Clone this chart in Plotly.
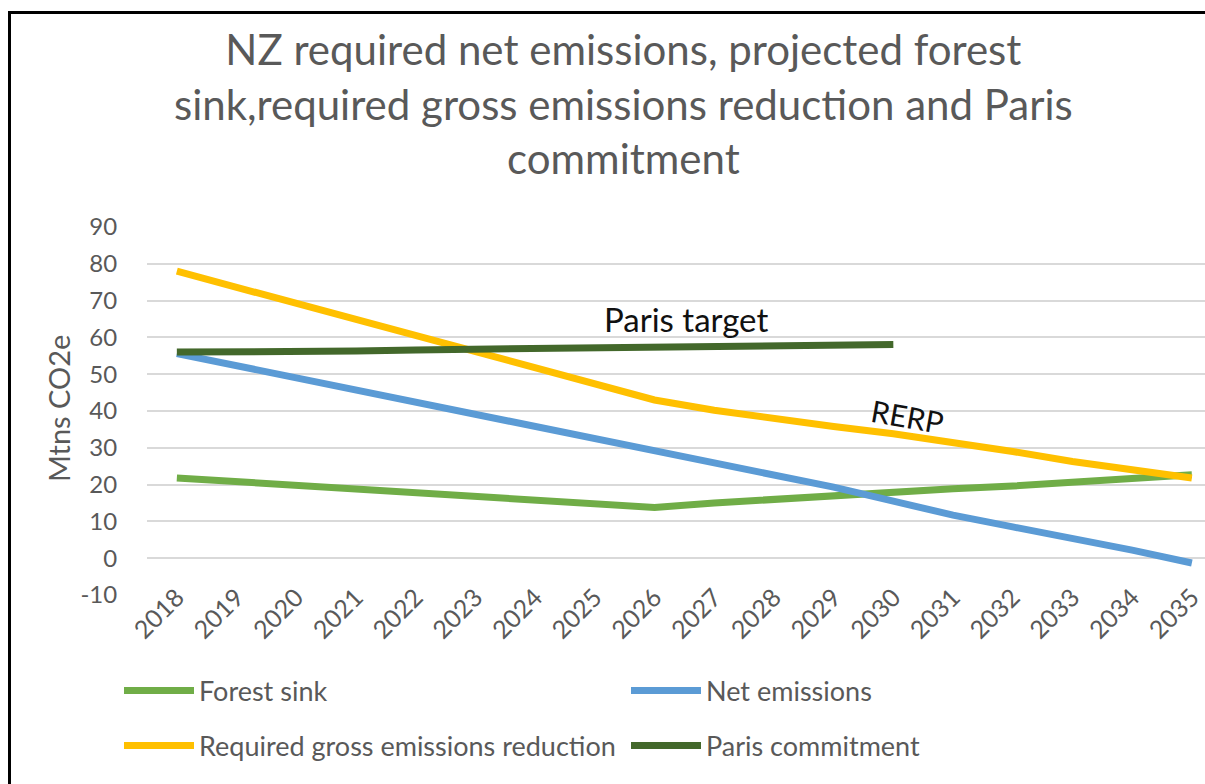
import plotly.graph_objects as go

years = list(range(2018, 2036))
year_labels = [str(y) for y in years]
y_ticks = [-10, 0, 10, 20, 30, 40, 50, 60, 70, 80, 90]
y_tick_labels = ["-10", "0", "10", "20", "30", "40", "50", "60", "70", "80", "90"]

forest_sink = [21.8, 20.8, 19.8, 18.8, 17.8, 16.8, 15.9, 14.9, 13.8, 15.0, 16.0, 17.1, 18.0, 18.9, 19.6, 20.6, 21.6, 22.7]
net_emissions = [55.6, 52.3, 49.0, 45.6, 42.3, 39.0, 35.8, 32.6, 29.2, 25.6, 22.5, 19.3, 15.5, 11.7, 8.5, 5.4, 2.2, -1.3]
gross_reduction = [78.0, 73.6, 69.4, 65.0, 60.6, 56.4, 52.0, 47.5, 43.0, 40.2, 37.8, 35.8, 33.8, 31.5, 29.0, 26.3, 24.0, 21.8]
paris_commitment = [56.0, 56.0, 56.0, 56.3, 56.6, 56.8, 57.1, 57.3, 57.5, 57.6, 57.7, 58.0, 58.1,
                    None, None, None, None, None]

series_names = ["Forest sink", "Net emissions", "Required gross emissions reduction", "Paris commitment"]
title_lines = ["NZ required net emissions, projected forest",
               "sink,required gross emissions reduction and Paris",
               "commitment"]

FONT = "Lato"
GREY = "#595959"

fig = go.Figure()
fig.add_trace(go.Scatter(x=years, y=forest_sink, name=series_names[0], mode="lines",
                         line=dict(color="#70AD47", width=7), legend="legend"))
fig.add_trace(go.Scatter(x=years, y=net_emissions, name=series_names[1], mode="lines",
                         line=dict(color="#5B9BD5", width=7), legend="legend"))
fig.add_trace(go.Scatter(x=years, y=gross_reduction, name=series_names[2], mode="lines",
                         line=dict(color="#FFC000", width=7), legend="legend2"))
fig.add_trace(go.Scatter(x=years, y=paris_commitment, name=series_names[3], mode="lines",
                         line=dict(color="#43682B", width=7), legend="legend2"))

W, H = 1205, 784
L, R, T, B = 147, 0, 227, 189
pw = W - L - R
ph = H - T - B

def px_x(p):
    return (p - L) / pw

def px_y(p):
    return (H - B - p) / ph

leg_common = dict(orientation="h", xanchor="left", yanchor="middle",
                  itemwidth=70, entrywidth=422, entrywidthmode="pixels",
                  font=dict(size=27, color=GREY, family=FONT), bgcolor="rgba(0,0,0,0)")

fig.update_layout(
    width=W, height=H, autosize=False,
    margin=dict(l=L, r=R, t=T, b=B),
    paper_bgcolor="white", plot_bgcolor="white",
    font=dict(family=FONT, color=GREY),
    showlegend=True,
    legend=dict(x=px_x(119), y=px_y(691), **leg_common),
    legend2=dict(x=px_x(119), y=px_y(746), **leg_common),
    xaxis=dict(range=[2017.5, 2035.22], tickmode="array", tickvals=years, ticktext=year_labels,
               tickangle=-45, tickfont=dict(size=25, color=GREY, family=FONT),
               showgrid=False, zeroline=False, showline=False, ticks="", ticklabelstandoff=-18),
    yaxis=dict(range=[-10, 90], tickmode="array", tickvals=y_ticks, ticktext=y_tick_labels,
               showgrid=True, gridcolor="#D9D9D9", gridwidth=1.5,
               zeroline=False, showline=False, tickfont=dict(size=24, color=GREY, family=FONT),
               ticks="outside", ticklen=24, tickcolor="rgba(0,0,0,0)"),
)

fig.add_annotation(text="<br>".join(title_lines), xref="paper", yref="paper",
                   x=px_x(623), y=px_y(104), xanchor="center", yanchor="middle",
                   showarrow=False, font=dict(size=42, color=GREY, family=FONT))
fig.add_annotation(text="Mtns CO2e", xref="paper", yref="paper", x=px_x(58), y=px_y(409),
                   xanchor="center", yanchor="middle", textangle=-90, showarrow=False,
                   font=dict(size=29, color=GREY, family=FONT))
fig.add_annotation(text="Paris target", xref="x", yref="y", x=2026.52, y=64.9,
                   showarrow=False, font=dict(size=33, color="#111111", family=FONT))
fig.add_annotation(text="RERP", xref="x", yref="y", x=2030.23, y=38.6, textangle=10,
                   showarrow=False, font=dict(size=30, color="#111111", family=FONT))

# frame border (left and top edges visible)
fig.add_shape(type="line", xref="paper", yref="paper", x0=px_x(9.5), x1=px_x(9.5),
              y0=px_y(12), y1=px_y(H), line=dict(color="black", width=3))
fig.add_shape(type="line", xref="paper", yref="paper", x0=px_x(8), x1=px_x(W),
              y0=px_y(12.5), y1=px_y(12.5), line=dict(color="black", width=3))

fig.write_html("out.html", config={"displayModeBar": False},
               post_script="document.body.style.margin='0';document.body.style.overflow='hidden';")
